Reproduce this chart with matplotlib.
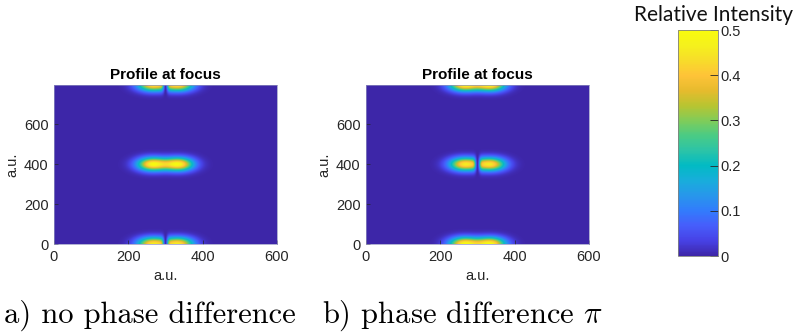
import numpy as np
import matplotlib
matplotlib.use('Agg')
import matplotlib.pyplot as plt
from matplotlib.colors import LinearSegmentedColormap

# parula-like colour anchors
parula_rgb = [
    (0.2422, 0.1504, 0.6603), (0.2783, 0.2559, 0.8991), (0.2760, 0.3667, 0.9829),
    (0.1963, 0.4847, 0.9892), (0.1540, 0.5902, 0.9218), (0.0952, 0.6798, 0.8598),
    (0.0067, 0.7312, 0.7660), (0.1717, 0.7670, 0.6554), (0.2906, 0.7973, 0.5188),
    (0.5044, 0.7993, 0.3480), (0.7242, 0.7698, 0.1910), (0.9035, 0.7330, 0.1774),
    (0.9970, 0.7659, 0.2199), (0.9697, 0.8639, 0.1643), (0.9598, 0.9454, 0.1113),
    (0.9763, 0.9831, 0.0538),
]
parula = LinearSegmentedColormap.from_list('parula', parula_rgb)

# spot layout (a.u.)
lobe_x = [265, 335]
row_y = [0, 400, 800]
gap_x = 300
# per-row peak intensity and whether the dark line between lobes shows
peak_a = [0.46, 0.50, 0.46]
dark_a = [True, False, True]
peak_b = [0.50, 0.46, 0.50]
dark_b = [False, True, False]
sig_x = 28
sig_y = 23
gap_w = 5

x = np.arange(0, 601)
y = np.arange(0, 801)


def profile(peaks, dark):
    img = np.zeros((len(y), len(x)))
    for yc, pk, dk in zip(row_y, peaks, dark):
        px = sum(np.exp(-(x - xc)**2 / (2 * sig_x**2)) for xc in lobe_x)
        if dk:
            px = px * (1 - np.exp(-(x - gap_x)**2 / (2 * gap_w**2)))
        px = px / px.max() * pk
        img += np.outer(np.exp(-(y - yc)**2 / (2 * sig_y**2)), px)
    return img


W, H = 799, 333
fig = plt.figure(figsize=(W / 100, H / 100), dpi=100)

panels = [(54, profile(peak_a, dark_a)), (366, profile(peak_b, dark_b))]
for left, img in panels:
    ax = fig.add_axes([left / W, (H - 244) / H, 223 / W, 159 / H])
    im = ax.imshow(img, cmap=parula, vmin=0, vmax=0.5, origin='lower',
                   extent=[0, 600, 0, 800], aspect='auto', interpolation='bilinear')
    ax.set_xlim(0, 600)
    ax.set_ylim(0, 797)
    ax.set_xticks([0, 200, 400, 600])
    ax.set_yticks([0, 200, 400, 600])
    ax.tick_params(direction='in', length=3, width=0.5, colors='#262626', labelsize=10.5, pad=4)
    for lab in ax.get_xticklabels() + ax.get_yticklabels():
        lab.set_family('Liberation Sans')
    ax.set_xlabel('a.u.', fontsize=10.5, family='Liberation Sans', color='#262626', labelpad=4)
    ax.set_ylabel('a.u.', fontsize=10.5, family='Liberation Sans', color='#262626', labelpad=3)
    ax.set_title('Profile at focus', fontsize=11, family='Liberation Sans',
                 fontweight='bold', pad=4)
    for s in ax.spines.values():
        s.set_linewidth(0.5)
        s.set_color('#9090c0')

cax = fig.add_axes([678 / W, (H - 256) / H, 40 / W, 226 / H])
cb = fig.colorbar(im, cax=cax, ticks=[0, 0.1, 0.2, 0.3, 0.4, 0.5])
cb.ax.set_yticklabels(['0', '0.1', '0.2', '0.3', '0.4', '0.5'])
cb.ax.tick_params(direction='in', length=6, width=0.6, colors='#262626', labelsize=10.5, pad=2)
for lab in cb.ax.get_yticklabels():
    lab.set_family('Liberation Sans')
cb.outline.set_linewidth(0.6)
cb.outline.set_edgecolor('#808080')
fig.text(713 / W, 1 - 15 / H, 'Relative Intensity', ha='center', va='center',
         fontsize=15, family='Lato', color='#111111')

plt.rcParams['mathtext.fontset'] = 'cm'
fig.text(4 / W, 10 / H, 'a) no phase difference', ha='left', va='baseline',
         fontsize=22, family='cmr10')
fig.text(322 / W, 10 / H, r'b) phase difference $\pi$', ha='left', va='baseline',
         fontsize=22, family='cmr10')

fig.savefig('out.png', dpi=100)
